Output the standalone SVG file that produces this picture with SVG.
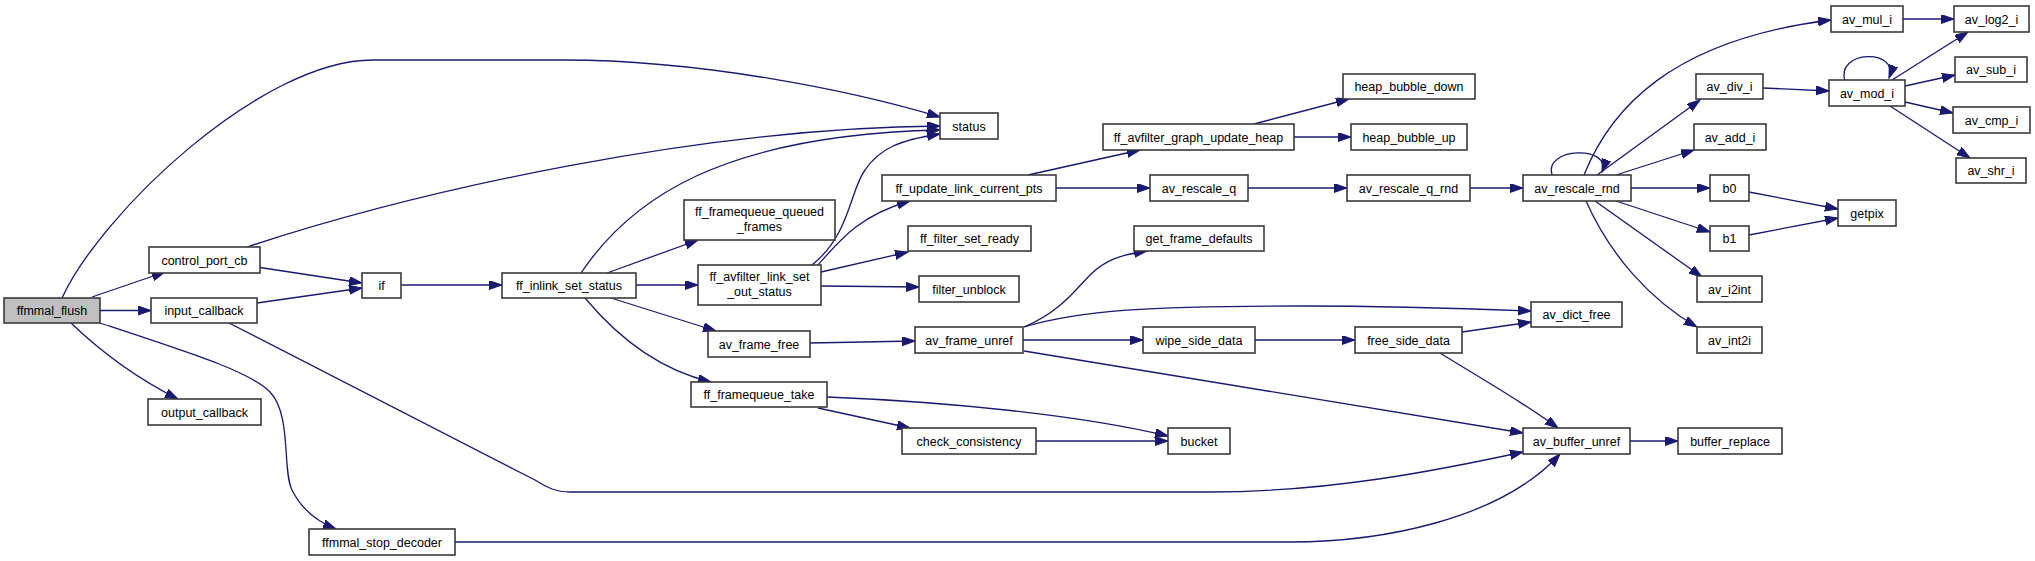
<svg xmlns="http://www.w3.org/2000/svg" width="2035" height="561" viewBox="0 0 2035 561">
<style>
.n rect{fill:#ffffff;stroke:#3a3a3a;stroke-width:1.6}
.n.root rect{fill:#bfbfbf}
.n text{font-family:"Liberation Sans",Arial,sans-serif;font-size:12.5px;fill:#000;text-anchor:middle}
.e path{fill:none;stroke:#191970;stroke-width:1.3;marker-end:url(#ah)}
</style>
<defs>
<marker id="ah" markerUnits="userSpaceOnUse" markerWidth="14" markerHeight="10" refX="13" refY="4.5" orient="auto">
<path d="M0,0 L13,4.5 L0,9 z" fill="#191970" stroke="#191970" stroke-width="1"/>
</marker>
</defs>
<rect width="2035" height="561" fill="#ffffff"/>
<g id="edges" class="e">
<path d="M62,298 C100,215 260,60 373,60 L564,60 C700,60 850,90 940,117"/>
<path d="M92,297 L165,272"/>
<path d="M100,310.5 L151,310.5"/>
<path d="M71,323 Q120,370 178,399"/>
<path d="M100,323 C200,356 250,372 270,392 C292,415 282,470 292,490 C302,510 318,522 336,529"/>
<path d="M247,247 C420,190 700,128 940,126"/>
<path d="M260,267.5 L362,283"/>
<path d="M257,303 L362,288"/>
<path d="M229,323 L535,480 C548,488 556,492 570,492 L1210,492 C1330,492 1440,470 1523,452"/>
<path d="M401,285 L502,285"/>
<path d="M581,273 C630,200 720,135 940,130"/>
<path d="M607,273 L698,240"/>
<path d="M636,285 L698,285"/>
<path d="M611,298 L716,331"/>
<path d="M585,298 C620,340 660,370 711,382"/>
<path d="M812,265 C850,235 850,190 865,170 C880,148 900,140 940,134"/>
<path d="M818,265 C840,240 860,215 910,201"/>
<path d="M821,272 L908,252"/>
<path d="M821,286 L919,287"/>
<path d="M1028,175 L1140,150"/>
<path d="M1056,188 L1150,188"/>
<path d="M1254,124 L1349,99"/>
<path d="M1294,137 L1351,137"/>
<path d="M1248,188 L1347,188"/>
<path d="M1470,188 L1523,188"/>
<path d="M1552,175 C1543,147 1612,145 1602,172"/>
<path d="M1584,175 C1610,110 1670,40 1831,20"/>
<path d="M1597,175 L1700,100"/>
<path d="M1616,175 L1694,150"/>
<path d="M1631,188 L1710,188"/>
<path d="M1616,201 L1710,232"/>
<path d="M1595,201 L1702,277"/>
<path d="M1586,201 C1610,255 1650,300 1697,327"/>
<path d="M1763,88 L1829,91"/>
<path d="M1845,81 C1835,50 1900,48 1889,78"/>
<path d="M1903,19 L1954,19"/>
<path d="M1892,80 L1968,32"/>
<path d="M1905,86 L1955,75"/>
<path d="M1905,102 L1953,113"/>
<path d="M1890,106 L1970,158"/>
<path d="M1749,192 L1838,209"/>
<path d="M1749,235 L1838,218"/>
<path d="M810,343 L915,341"/>
<path d="M1024,327 C1060,312 1075,290 1090,275 C1105,260 1120,255 1147,251"/>
<path d="M1024,327 C1080,310 1150,306 1300,306 C1400,306 1480,309 1531,311"/>
<path d="M1023,340 L1143,340"/>
<path d="M1024,351 L1523,433"/>
<path d="M1255,340 L1355,340"/>
<path d="M1462,332 L1531,322"/>
<path d="M1440,353 C1480,378 1520,400 1558,428"/>
<path d="M827,397 C950,402 1080,415 1168,436"/>
<path d="M818,408 L910,428"/>
<path d="M1036,441 L1168,441"/>
<path d="M455,542 L1290,542 C1380,542 1500,520 1560,454"/>
<path d="M1630,441 L1678,441"/>
</g>
<g id="ffmmal_flush" class="n root"><rect x="4" y="298" width="96" height="25"/><text x="52" y="315">ffmmal_flush</text></g>
<g id="control_port_cb" class="n"><rect x="149" y="247" width="111" height="26"/><text x="204.5" y="264.5">control_port_cb</text></g>
<g id="input_callback" class="n"><rect x="151" y="298" width="106" height="25"/><text x="204" y="315">input_callback</text></g>
<g id="output_callback" class="n"><rect x="148" y="399" width="113" height="26"/><text x="204.5" y="416.5">output_callback</text></g>
<g id="if" class="n"><rect x="362" y="273" width="39" height="25"/><text x="381.5" y="290">if</text></g>
<g id="ff_inlink_set_status" class="n"><rect x="502" y="273" width="134" height="25"/><text x="569" y="290">ff_inlink_set_status</text></g>
<g id="ffmmal_stop_decoder" class="n"><rect x="309" y="529" width="146" height="26"/><text x="382" y="546.5">ffmmal_stop_decoder</text></g>
<g id="status" class="n"><rect x="940" y="113" width="58" height="26"/><text x="969" y="130.5">status</text></g>
<g id="ff_framequeue_queued_frames" class="n"><rect x="684" y="200" width="151" height="40"/><text x="759.5" y="216">ff_framequeue_queued</text><text x="759.5" y="231">_frames</text></g>
<g id="ff_avfilter_link_set_out_status" class="n"><rect x="698" y="265" width="123" height="40"/><text x="759.5" y="281">ff_avfilter_link_set</text><text x="759.5" y="296">_out_status</text></g>
<g id="ff_update_link_current_pts" class="n"><rect x="882" y="175" width="174" height="26"/><text x="969" y="192.5">ff_update_link_current_pts</text></g>
<g id="ff_filter_set_ready" class="n"><rect x="908" y="226" width="123" height="25"/><text x="969.5" y="243">ff_filter_set_ready</text></g>
<g id="filter_unblock" class="n"><rect x="919" y="276" width="100" height="26"/><text x="969" y="293.5">filter_unblock</text></g>
<g id="av_frame_free" class="n"><rect x="708" y="331" width="102" height="26"/><text x="759" y="348.5">av_frame_free</text></g>
<g id="av_frame_unref" class="n"><rect x="915" y="327" width="108" height="26"/><text x="969" y="344.5">av_frame_unref</text></g>
<g id="ff_framequeue_take" class="n"><rect x="691" y="382" width="136" height="25"/><text x="759" y="399">ff_framequeue_take</text></g>
<g id="check_consistency" class="n"><rect x="902" y="428" width="134" height="26"/><text x="969" y="445.5">check_consistency</text></g>
<g id="bucket" class="n"><rect x="1168" y="428" width="62" height="26"/><text x="1199" y="445.5">bucket</text></g>
<g id="ff_avfilter_graph_update_heap" class="n"><rect x="1103" y="124" width="191" height="26"/><text x="1198.5" y="141.5">ff_avfilter_graph_update_heap</text></g>
<g id="av_rescale_q" class="n"><rect x="1150" y="175" width="98" height="26"/><text x="1199" y="192.5">av_rescale_q</text></g>
<g id="get_frame_defaults" class="n"><rect x="1134" y="226" width="130" height="25"/><text x="1199" y="243">get_frame_defaults</text></g>
<g id="wipe_side_data" class="n"><rect x="1143" y="327" width="112" height="26"/><text x="1199" y="344.5">wipe_side_data</text></g>
<g id="heap_bubble_down" class="n"><rect x="1343" y="74" width="132" height="25"/><text x="1409" y="91">heap_bubble_down</text></g>
<g id="heap_bubble_up" class="n"><rect x="1351" y="124" width="116" height="26"/><text x="1409" y="141.5">heap_bubble_up</text></g>
<g id="av_rescale_q_rnd" class="n"><rect x="1347" y="175" width="123" height="26"/><text x="1408.5" y="192.5">av_rescale_q_rnd</text></g>
<g id="free_side_data" class="n"><rect x="1355" y="327" width="107" height="26"/><text x="1408.5" y="344.5">free_side_data</text></g>
<g id="av_rescale_rnd" class="n"><rect x="1523" y="175" width="108" height="26"/><text x="1577" y="192.5">av_rescale_rnd</text></g>
<g id="av_dict_free" class="n"><rect x="1531" y="302" width="91" height="25"/><text x="1576.5" y="319">av_dict_free</text></g>
<g id="av_buffer_unref" class="n"><rect x="1523" y="428" width="107" height="26"/><text x="1576.5" y="445.5">av_buffer_unref</text></g>
<g id="av_div_i" class="n"><rect x="1696" y="74" width="67" height="25"/><text x="1729.5" y="91">av_div_i</text></g>
<g id="av_add_i" class="n"><rect x="1694" y="124" width="72" height="26"/><text x="1730" y="141.5">av_add_i</text></g>
<g id="b0" class="n"><rect x="1710" y="175" width="39" height="26"/><text x="1729.5" y="192.5">b0</text></g>
<g id="b1" class="n"><rect x="1710" y="226" width="39" height="25"/><text x="1729.5" y="243">b1</text></g>
<g id="av_i2int" class="n"><rect x="1697" y="276" width="65" height="26"/><text x="1729.5" y="293.5">av_i2int</text></g>
<g id="av_int2i" class="n"><rect x="1697" y="327" width="65" height="26"/><text x="1729.5" y="344.5">av_int2i</text></g>
<g id="buffer_replace" class="n"><rect x="1678" y="428" width="104" height="26"/><text x="1730" y="445.5">buffer_replace</text></g>
<g id="av_mul_i" class="n"><rect x="1831" y="6" width="72" height="26"/><text x="1867" y="23.5">av_mul_i</text></g>
<g id="av_mod_i" class="n"><rect x="1829" y="80" width="76" height="26"/><text x="1867" y="97.5">av_mod_i</text></g>
<g id="getpix" class="n"><rect x="1838" y="200" width="58" height="26"/><text x="1867" y="217.5">getpix</text></g>
<g id="av_log2_i" class="n"><rect x="1954" y="6" width="75" height="26"/><text x="1991.5" y="23.5">av_log2_i</text></g>
<g id="av_sub_i" class="n"><rect x="1955" y="57" width="72" height="25"/><text x="1991" y="74">av_sub_i</text></g>
<g id="av_cmp_i" class="n"><rect x="1953" y="107" width="77" height="26"/><text x="1991.5" y="124.5">av_cmp_i</text></g>
<g id="av_shr_i" class="n"><rect x="1956" y="158" width="70" height="25"/><text x="1991" y="175">av_shr_i</text></g>
</svg>
